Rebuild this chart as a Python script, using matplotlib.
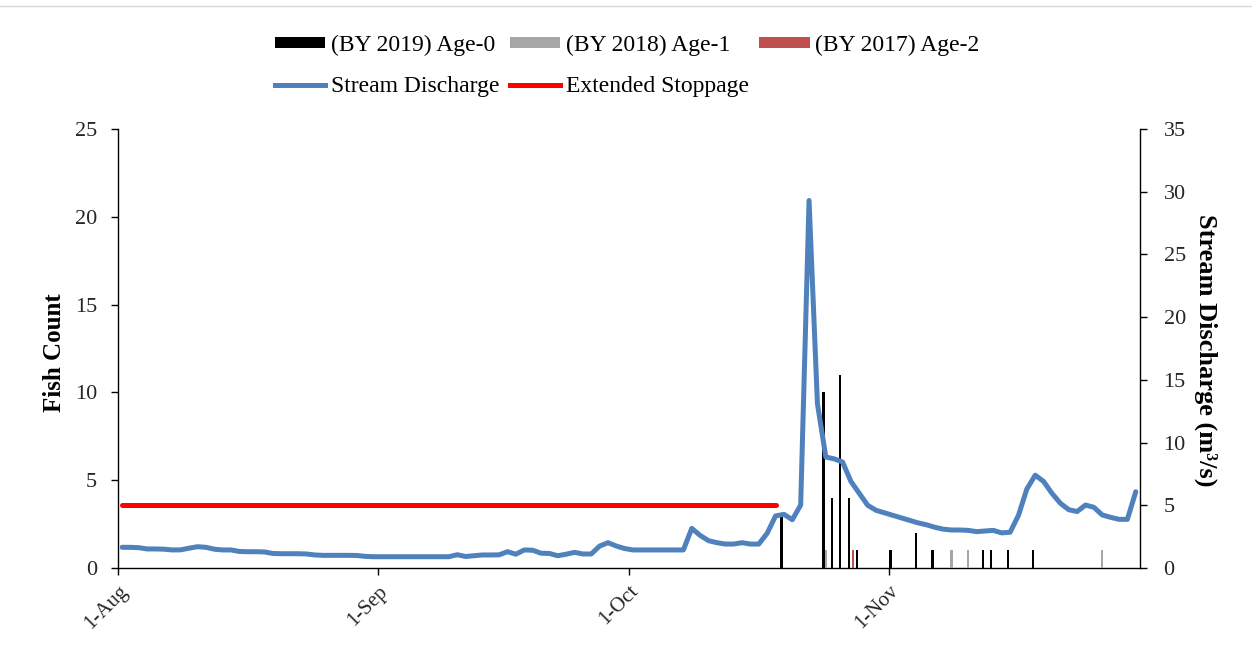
import matplotlib
matplotlib.use('Agg')
import matplotlib.pyplot as plt
import numpy as np
import pandas as pd
from matplotlib.patches import Patch
from matplotlib.lines import Line2D

plt.rcParams['font.family'] = ['Liberation Serif', 'DejaVu Serif']

# ---------------- data ----------------
start_date = '2019-08-01'
axis_end_date = '2019-12-01'

# daily stream discharge (m3/s), 1-Aug .. 30-Nov
discharge = [
    1.65, 1.65, 1.62, 1.52, 1.52, 1.50, 1.44, 1.45, 1.58, 1.70,
    1.65, 1.50, 1.44, 1.44, 1.32, 1.30, 1.30, 1.28, 1.16, 1.14,
    1.14, 1.14, 1.12, 1.04, 1.01, 1.01, 1.01, 1.01, 1.00, 0.93,
    0.90, 0.90, 0.90, 0.90, 0.90, 0.90, 0.90, 0.90, 0.90, 0.90,
    1.06, 0.92, 0.98, 1.04, 1.04, 1.05, 1.30, 1.10, 1.44, 1.42,
    1.18, 1.16, 0.98, 1.10, 1.25, 1.12, 1.12, 1.75, 2.02, 1.75,
    1.55, 1.44, 1.44, 1.44, 1.44, 1.44, 1.44, 1.44, 3.16, 2.60,
    2.18, 2.02, 1.91, 1.91, 2.02, 1.91, 1.91, 2.77, 4.15, 4.28,
    3.85, 5.02, 29.3, 13.1, 8.85, 8.70, 8.45, 6.90, 5.95, 5.00,
    4.60, 4.40, 4.20, 4.00, 3.80, 3.60, 3.45, 3.25, 3.10, 3.03,
    3.03, 3.00, 2.90, 2.95, 3.00, 2.80, 2.85, 4.20, 6.30, 7.40,
    6.90, 5.95, 5.16, 4.65, 4.50, 5.02, 4.84, 4.23, 4.04, 3.88,
    3.88, 6.08,
]

age0_dates = ['2019-10-19', '2019-10-24', '2019-10-25', '2019-10-26', '2019-10-27',
              '2019-10-28', '2019-11-01', '2019-11-04', '2019-11-06', '2019-11-12',
              '2019-11-13', '2019-11-15', '2019-11-18']
age0_counts = [3, 10, 4, 11, 4, 1, 1, 2, 1, 1, 1, 1, 1]

age1_dates = ['2019-10-24', '2019-11-08', '2019-11-10', '2019-11-26']
age1_counts = [1, 1, 1, 1]

age2_dates = ['2019-10-27']
age2_counts = [1]

stoppage_start = '2019-08-01'
stoppage_end = '2019-10-18'
stoppage_level = 5

tick_dates = ['2019-08-01', '2019-09-01', '2019-10-01', '2019-11-01']
tick_labels = ['1-Aug', '1-Sep', '1-Oct', '1-Nov']

series_labels = ['(BY 2019) Age-0', '(BY 2018) Age-1', '(BY 2017) Age-2']
series_colors = ['#000000', '#A6A6A6', '#C0504D']
line_labels = ['Stream Discharge', 'Extended Stoppage']
line_colors = ['#4F81BD', '#FF0000']

# ---------------- helpers ----------------
t0 = pd.Timestamp(start_date)


def day_index(dates):
    return np.array([(pd.Timestamp(d) - t0).days for d in dates], dtype=float)


x_end = day_index([axis_end_date])[0]

fig = plt.figure(figsize=(12.52, 6.55), dpi=100)
ax = fig.add_axes([0.0942, 0.1328, 0.8163, 0.6703])
ax2 = ax.twinx()

# faint chart-area border line at the very top
fig.add_artist(Line2D([0, 1], [1 - 6 / 655, 1 - 6 / 655], transform=fig.transFigure,
                      color='#D9D9D9', lw=1.0))

bar_w = 0.28
offsets = [-0.27, 0.0, 0.27]
for dates, counts, color, off in zip([age0_dates, age1_dates, age2_dates],
                                     [age0_counts, age1_counts, age2_counts],
                                     series_colors, offsets):
    ax.bar(day_index(dates) + 0.5 + off, counts, width=bar_w, color=color,
           edgecolor='none', zorder=3)

q_days = np.arange(len(discharge)) + 0.5
ax2.plot(q_days, discharge, color=line_colors[0], lw=3.6,
         solid_capstyle='round', solid_joinstyle='round', zorder=4)

s_days = day_index([stoppage_start, stoppage_end]) + 0.5
ax2.plot(s_days, [stoppage_level, stoppage_level], color=line_colors[1], lw=3.6,
         solid_capstyle='round', zorder=4)

ax.set_xlim(0, x_end)
ax.set_ylim(0, 25)
ax2.set_ylim(0, 35)
ax.set_yticks(np.arange(0, 26, 5))
ax2.set_yticks(np.arange(0, 36, 5))
ax.set_xticks(day_index(tick_dates))
ax.set_xticklabels(tick_labels, rotation=45, ha='right', rotation_mode='anchor')

tick_color = '#262626'
for a in (ax, ax2):
    a.spines['top'].set_visible(False)
    for s in a.spines.values():
        s.set_color('black')
        s.set_linewidth(1.0)
    a.tick_params(axis='both', direction='out', length=5, width=1.0, color='black',
                  labelsize=16, labelcolor=tick_color)
ax.tick_params(axis='y', pad=10)
ax2.tick_params(axis='y', pad=12)
ax.tick_params(axis='x', pad=5, labelsize=15)
ax.spines['right'].set_visible(False)
ax2.spines['left'].set_visible(False)
ax2.spines['bottom'].set_visible(False)

ax.set_ylabel('Fish Count', fontsize=18, fontweight='bold', va='center')
ax.yaxis.set_label_coords(-0.0616, 0.49)
ax2.set_ylabel('Stream Discharge (m³/s)', fontsize=19, fontweight='bold',
               rotation=270, va='center')
ax2.yaxis.set_label_coords(1.0646, 0.497)

handles = [
    Patch(facecolor=series_colors[0], edgecolor='none', label=series_labels[0]),
    Line2D([], [], color=line_colors[0], lw=3.6, label=line_labels[0]),
    Patch(facecolor=series_colors[1], edgecolor='none', label=series_labels[1]),
    Line2D([], [], color=line_colors[1], lw=3.6, label=line_labels[1]),
    Patch(facecolor=series_colors[2], edgecolor='none', label=series_labels[2]),
]
fig.legend(handles=handles, ncol=3, loc='upper center',
           bbox_to_anchor=(0.501, 0.972), frameon=False, fontsize=17,
           handlelength=2.12, handleheight=0.36, handletextpad=0.25,
           columnspacing=0.45, labelspacing=0.85, borderpad=0.2)

fig.savefig('out.png', dpi=100)
